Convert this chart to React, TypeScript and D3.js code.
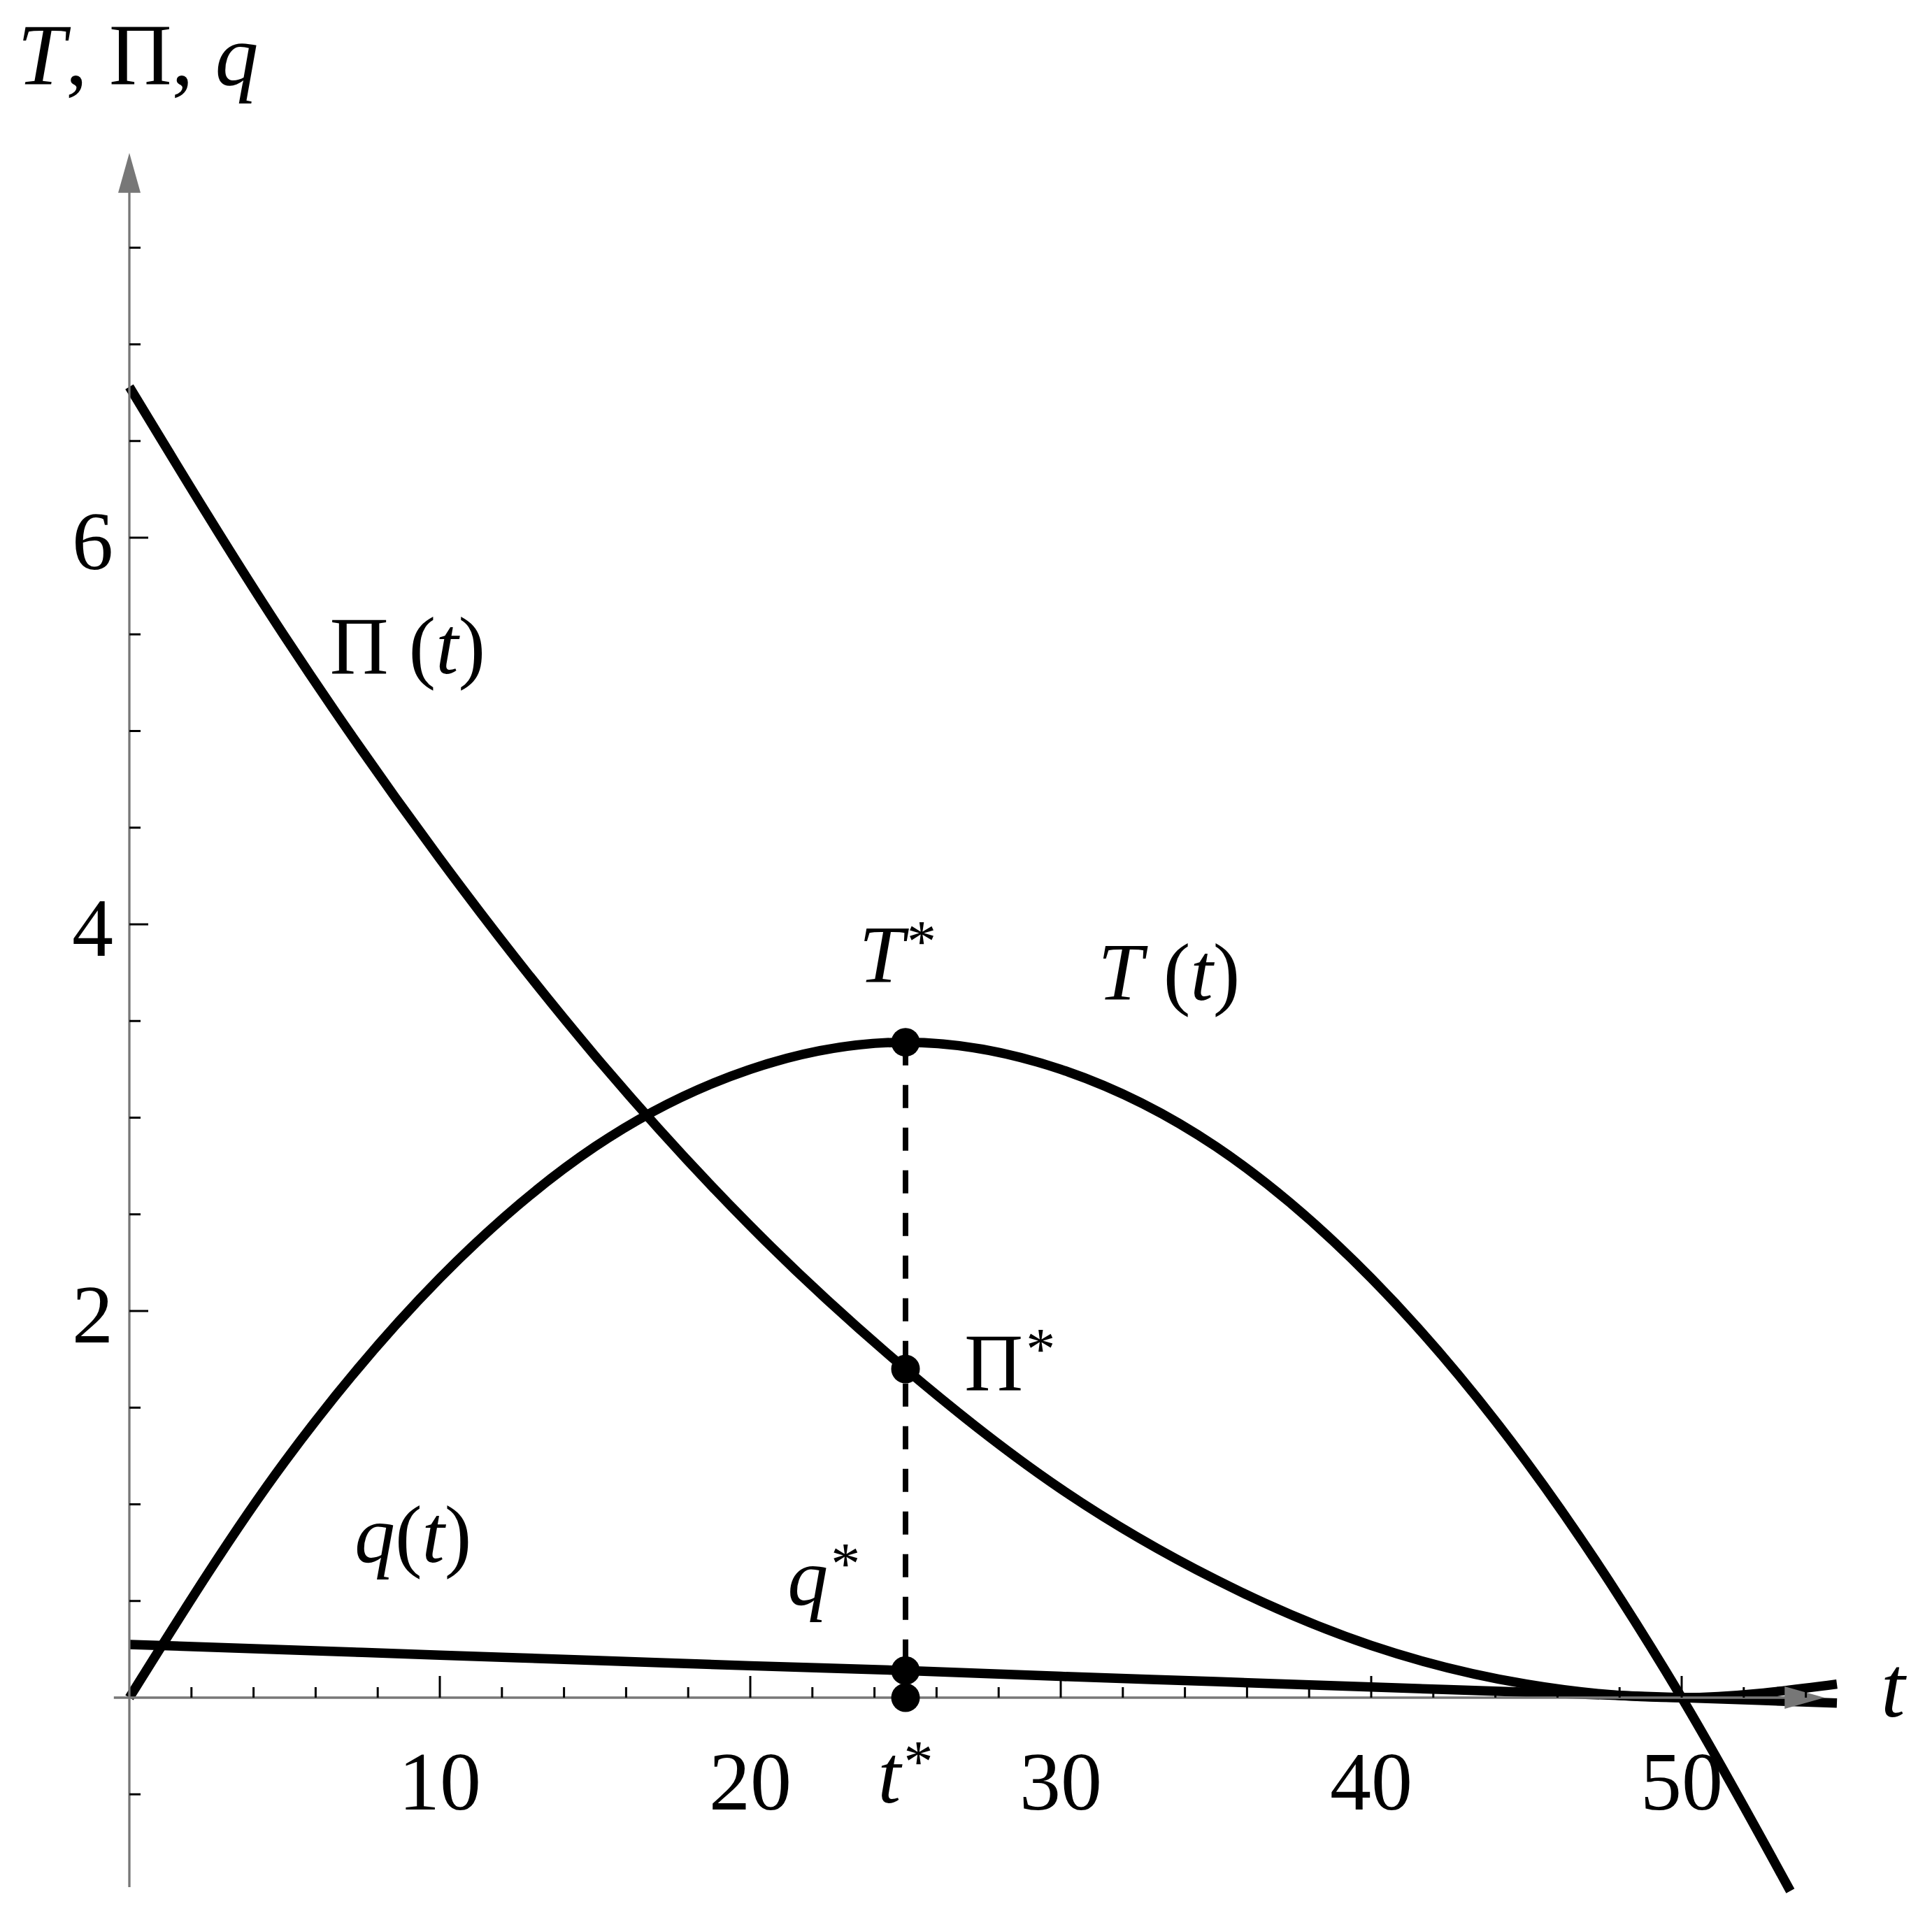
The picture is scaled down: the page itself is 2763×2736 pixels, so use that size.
import React from 'react';
import * as d3 from 'd3';

// values
const tSamples = [0, 5, 10, 15, 20, 25, 30, 35, 40, 45, 50, 55];
const piValues = [6.78, 5.49, 4.34, 3.32, 2.44, 1.70, 1.08, 0.61, 0.27, 0.07, 0.0, 0.07];
const qValues = [0.275, 0.248, 0.22, 0.193, 0.165, 0.14, 0.11, 0.083, 0.055, 0.028, 0.0, -0.028];
const taxSamples = [0, 5, 10, 15, 20, 25, 30, 35, 40, 45, 50, 53.5];
const taxValues = [0, 1.22, 2.17, 2.85, 3.25, 3.39, 3.25, 2.85, 2.17, 1.22, 0, -1.0];

const tStar = 25;
const optimum = { T: 3.39, Pi: 1.70, q: 0.14 };

const xMajorTicks = [10, 20, 30, 40, 50];
const xMinorTicks = [2, 4, 6, 8, 12, 14, 16, 18, 22, 24, 26, 28, 32, 34, 36, 38, 42, 44, 46, 48, 52, 54];
const yMajorTicks = [2, 4, 6];
const yMinorTicks = [-0.5, 0.5, 1, 1.5, 2.5, 3, 3.5, 4.5, 5, 5.5, 6.5, 7, 7.5];

const settings = {
  width: 2763,
  height: 2736,
  font: '"Liberation Serif", "DejaVu Serif", serif',
  axisColor: '#777',
  curveWidth: 13.5
};

const x = d3.scaleLinear().domain([0, 50]).range([185, 2405]);
const y = d3.scaleLinear().domain([0, 6]).range([2428, 769]);

const makeLine = (ts: number[], vs: number[]) =>
  d3.line<number>()
    .x((d, i) => x(ts[i]))
    .y((d) => y(d))
    .curve(d3.curveMonotoneX)(vs);

const Star = () => <tspan fontStyle="normal" fontSize={84} dx={4} dy={-30}>*</tspan>;

const Axes = () => {
  const x0 = x(0), y0 = y(0);
  const yTop = y(7.99), xRight = x(54.6);
  const head = 57, half = 16;
  return (
    <g>
      <line x1={x(-0.5)} x2={xRight - head + 4} y1={y0} y2={y0} stroke={settings.axisColor} strokeWidth={3.3} />
      <line x1={x0} x2={x0} y1={y(-0.98)} y2={yTop + head - 4} stroke={settings.axisColor} strokeWidth={3.3} />
      <path d={`M${xRight},${y0} L${xRight - head},${y0 - half} L${xRight - head},${y0 + half} Z`} fill={settings.axisColor} />
      <path d={`M${x0},${yTop} L${x0 - half},${yTop + head} L${x0 + half},${yTop + head} Z`} fill={settings.axisColor} />
      {xMajorTicks.map(t => <line key={'xM' + t} x1={x(t)} x2={x(t)} y1={y0} y2={y0 - 31} stroke="#000" strokeWidth={3} />)}
      {xMinorTicks.map(t => <line key={'xm' + t} x1={x(t)} x2={x(t)} y1={y0} y2={y0 - 15} stroke="#000" strokeWidth={3} />)}
      {yMajorTicks.map(v => <line key={'yM' + v} x1={x0} x2={x0 + 27} y1={y(v)} y2={y(v)} stroke="#000" strokeWidth={3} />)}
      {yMinorTicks.map(v => <line key={'ym' + v} x1={x0} x2={x0 + 16} y1={y(v)} y2={y(v)} stroke="#000" strokeWidth={3} />)}
    </g>
  );
};

export default function App() {
  const curveStyle = { fill: 'none', stroke: '#000', strokeWidth: settings.curveWidth };
  return (
    <svg width={settings.width} height={settings.height}
         style={{ position: 'absolute', left: 0, top: 0, background: '#fff' }}
         fontFamily={settings.font}>
      {/* tick labels sit under the curves */}
      {xMajorTicks.map(t => (
        <text key={'xl' + t} x={x(t)} y={2588} fontSize={118} textAnchor="middle">{t}</text>
      ))}
      <text x={x(tStar)} y={2578} fontSize={118} textAnchor="middle">
        <tspan fontStyle="italic">t</tspan><Star />
      </text>
      {yMajorTicks.map(v => (
        <text key={'yl' + v} x={162} y={y(v) + 45} fontSize={118} textAnchor="end">{v}</text>
      ))}

      <path d={makeLine(tSamples, piValues) || ''} {...curveStyle} />
      <path d={makeLine(taxSamples, taxValues) || ''} {...curveStyle} />
      <path d={makeLine(tSamples, qValues) || ''} {...curveStyle} />

      <line x1={x(tStar)} x2={x(tStar)} y1={y(optimum.T)} y2={y(optimum.q)}
            stroke="#000" strokeWidth={8} strokeDasharray="33 28" />

      <Axes />

      {[optimum.T, optimum.Pi, optimum.q, 0].map((v, i) => (
        <circle key={'dot' + i} cx={x(tStar)} cy={y(v)} r={20.5} fill="#000" />
      ))}

      <text x={25} y={121} fontSize={124}>
        <tspan fontStyle="italic">T</tspan>, Π, <tspan fontStyle="italic">q</tspan>
      </text>
      <text x={2690} y={2455} fontSize={124} fontStyle="italic">t</text>

      <text x={x(6.46)} y={y(5.30)} fontSize={116}>
        Π (<tspan fontStyle="italic">t</tspan>)
      </text>
      <text x={x(31.2)} y={y(3.61)} fontSize={116}>
        <tspan fontStyle="italic">T</tspan> (<tspan fontStyle="italic">t</tspan>)
      </text>
      <text x={x(23.5)} y={y(3.70)} fontSize={116}>
        <tspan fontStyle="italic">T</tspan><Star />
      </text>
      <text x={x(26.9)} y={y(1.59)} fontSize={116}>
        Π<Star />
      </text>
      <text x={x(7.25)} y={y(0.70)} fontSize={116}>
        <tspan fontStyle="italic">q</tspan>(<tspan fontStyle="italic">t</tspan>)
      </text>
      <text x={x(21.2)} y={y(0.48)} fontSize={116}>
        <tspan fontStyle="italic">q</tspan><Star />
      </text>
    </svg>
  );
}
